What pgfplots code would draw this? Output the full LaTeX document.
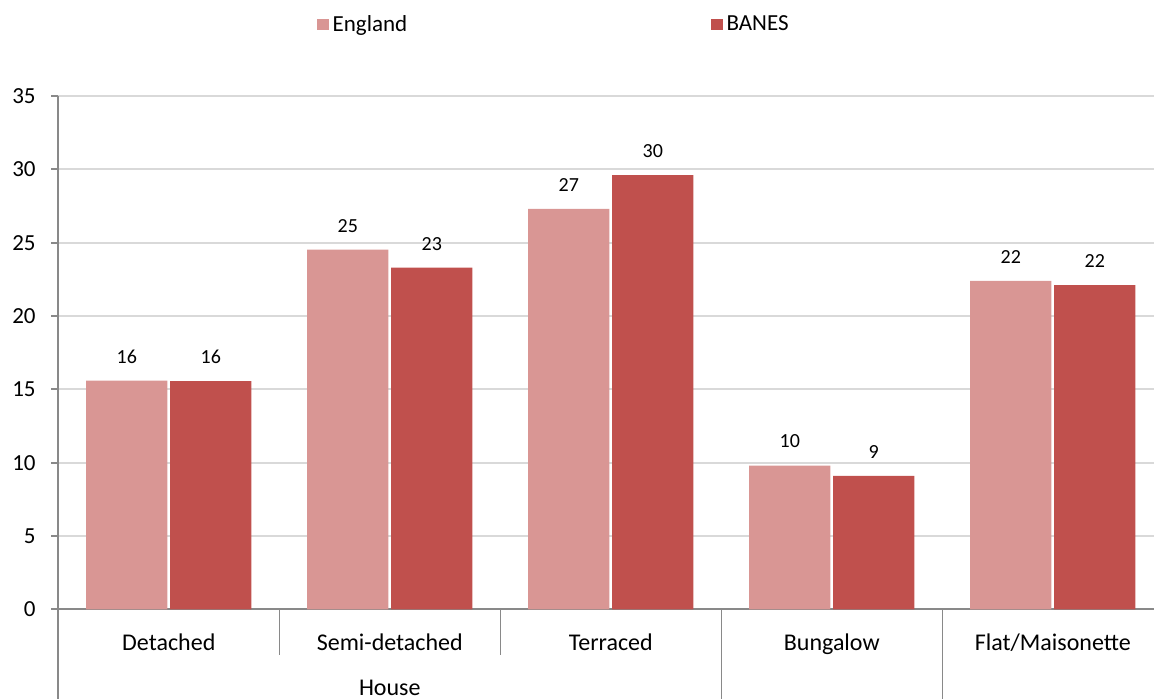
\documentclass[border=0pt]{standalone}
\usepackage{pgfplots}
\pgfplotsset{compat=1.18}
\usepackage{fontspec}
\setmainfont{Carlito}
\definecolor{engl}{HTML}{D99694}
\definecolor{banes}{HTML}{C0504D}
\definecolor{axgray}{HTML}{898989}
\definecolor{gridgray}{HTML}{D9D9D9}
\pgfplotsset{
  sqlegend/.style={legend image code/.code={\fill[##1,draw=none] (0pt,-2.825pt) rectangle (5.65pt,2.825pt);}},
}
\begin{document}
\begin{tikzpicture}
\begin{axis}[
  x=110.5pt, y=7.333pt,
  xmin=-0.5, xmax=4.458, ymin=0, ymax=35,
  axis lines*=left,
  axis line style={draw=axgray, line width=0.9pt, -},
  ytick={0,5,...,35},
  xtick={0,...,4},
  xticklabels={Detached, Semi-detached, Terraced, Bungalow, Flat/Maisonette},
  xtick style={draw=none},
  ytick style={draw=axgray, line width=0.9pt},
  tick align=outside,
  major tick length=3.5pt,
  ymajorgrids,
  grid style={draw=gridgray, line width=0.9pt},
  yticklabel style={font=\fontsize{11.5}{13}\selectfont, xshift=-4.3pt},
  xticklabel style={font=\fontsize{12}{14}\selectfont, yshift=-5pt},
  /pgf/number format/assume math mode=true,
  clip=false,
  ybar=0pt,
  bar width=0.368,
  nodes near coords,
  nodes near coords style={font=\fontsize{10}{12}\selectfont, anchor=center, yshift=12pt,
    /pgf/number format/.cd, fixed, precision=0},
  legend columns=2,
  legend style={draw=none, fill=none, inner sep=0pt, outer sep=0pt,
    at={(0.2364,1.1389)}, anchor=west,
    font=\fontsize{11.5}{13}\selectfont,
    /tikz/every even column/.append style={column sep=150pt}},
]
\addplot[fill=engl, draw=none, bar shift=-0.19, sqlegend]
  coordinates {(0,15.6) (1,24.52) (2,27.3) (3,9.8) (4,22.4)};
\addlegendentry{England}
\addplot[fill=banes, draw=none, bar shift=0.19, sqlegend]
  coordinates {(0,15.55) (1,23.3) (2,29.6) (3,9.1) (4,22.1)};
\addlegendentry{BANES}

% category separators and the second-level group label
\draw[axgray, line width=0.7pt] (axis cs:0.5,0) -- ++(0pt,-22.85pt);
\draw[axgray, line width=0.7pt] (axis cs:1.5,0) -- ++(0pt,-22.85pt);
\draw[axgray, line width=0.9pt] (axis cs:-0.5,0) -- ++(0pt,-50pt);
\draw[axgray, line width=0.7pt] (axis cs:2.5,0) -- ++(0pt,-50pt);
\draw[axgray, line width=0.7pt] (axis cs:3.5,0) -- ++(0pt,-50pt);
\node[font=\fontsize{12}{14}\selectfont, anchor=base] at ([yshift=-42.9pt]axis cs:1,0) {House};

\coordinate (sw) at (rel axis cs:0,0);
\coordinate (ne) at (rel axis cs:1,1);
\end{axis}
\pgfresetboundingbox
\useasboundingbox ([xshift=-29.15pt,yshift=-44.35pt]sw) rectangle ([yshift=48pt]ne);
\end{tikzpicture}
\end{document}
